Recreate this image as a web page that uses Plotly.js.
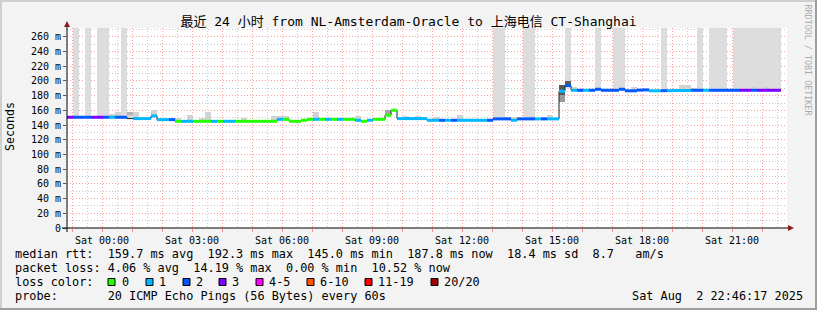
<!DOCTYPE html>
<html><head><meta charset="utf-8">
<script src="https://cdn.plot.ly/plotly-3.0.1.min.js"></script>
<style>html,body{margin:0;padding:0;background:#f3f3f3;overflow:hidden}#chart{width:817px;height:310px}</style>
</head><body><div id="chart"></div>
<script>
// ---------------- DATA ----------------
const TITLE = '最近 24 小时 from NL-Amsterdam-Oracle to 上海电信 CT-Shanghai';
// 12-minute bins, hours relative to Sat 00:00 (first bin starts Fri 22:50)
const FIRST_BIN_HOUR = -7 / 6;
const BIN_HOURS = 0.2;
// median RTT per bin (ms)
const medianRtt = [
  150.6,150.6,150.6,150.6,150.6,150.6,150.6,150.6,150.6,150.6,
  148.8,148.8,148.8,148.8,152.4,147.4,147.4,147.4,145.1,145.1,
  145.1,145.1,145.1,145.1,145.1,145.1,145.1,145.1,145.1,145.1,
  145.1,145.1,145.1,145.1,145.1,147.8,147.8,145.1,145.1,146.5,
  147.8,147.8,147.8,147.8,147.8,147.8,147.8,147.8,146.5,145.1,
  146.5,147.8,147.8,153.3,160.1,148.8,148.8,148.8,148.8,148.8,
  146.5,146.5,146.5,146.5,146.5,146.5,146.5,146.5,146.5,146.5,
  146.5,148.4,148.4,148.4,146.5,148.4,148.4,148.4,148.4,148.4,
  148.4,148.4,186.0,193.5,187.3,187.3,187.3,187.3,188.7,187.3,
  187.3,187.3,188.7,186.6,186.6,187.5,187.8,186.6,186.6,186.8,
  186.8,187.0,187.0,187.0,187.3,187.3,187.3,187.3,187.3,187.3,
  187.3,187.3,187.3,187.3,187.3,187.3,187.3,187.3,187.3
];
// loss class per bin (index into lossLabels, -1 = no colour)
const lossClass = [
  3,2,2,2,3,3,2,1,2,2,
  -1,1,1,1,1,1,1,2,0,1,
  1,0,0,0,1,0,1,1,0,0,
  0,0,0,0,0,1,0,0,0,0,
  0,1,0,1,0,1,0,0,1,0,
  1,0,0,0,0,1,1,1,1,1,
  1,1,2,1,2,1,1,1,1,1,
  2,2,2,2,1,2,2,2,1,2,
  1,1,1,2,1,2,1,2,2,2,
  2,2,2,2,2,2,2,1,1,2,
  1,1,1,1,2,2,1,2,2,2,
  2,2,3,3,2,3,3,3,3
];
// light smoke (spread above the median)
const smokeBins = [7,8,10,11,13,14,18,20,22,23,29,32,34,35,36,38,41,48,53,54,56,58,59,61,65,73,74,77,79,80,82,83,84,92,94,96,102,103,104,114,116];
const smokeTops = [155.6,158.3,157.4,158.3,151,161,149.7,154.2,149.7,157.4,149.7,147.4,152.9,152.9,152.9,147.5,157.4,152,161,162.3,153,152.9,151,151,154.2,151,151,152.9,151,154.2,195,199.6,192,190.6,192,189,195,195,190.6,192,192];
// dense smoke
const darkBins = [10,53,82,82,83];
const darkLows = [154.2,154.0,172.0,181.5,192.8];
const darkTops = [157.4,161.0,181.5,195.0,199.6];
const darkShade = ['#b4b4b4','#a8a8a8','#9a9a9a','#5a5a5a','#5a5a5a'];
// bins with outlier pings beyond the chart top
const tallBins = [1,3,5,6,9,71,72,76,77,83,88,91,92,99,105,107,108,109,111,112,113,114,115,116,117,118];

const lossLabels = ['0','1','2','3','4-5','6-10','11-19','20/20'];
const lossColors = ['#26ff00','#00b8ff','#0059ff','#7e00ff','#ff00ff','#ff5500','#ff0000','#a10000'];

const xTickHours = [0,3,6,9,12,15,18,21];
const xTickLabels = ['Sat 00:00','Sat 03:00','Sat 06:00','Sat 09:00','Sat 12:00','Sat 15:00','Sat 18:00','Sat 21:00'];
const yTickValues = [0,20,40,60,80,100,120,140,160,180,200,220,240,260];
const yTickLabels = ['0','20 m','40 m','60 m','80 m','100 m','120 m','140 m','160 m','180 m','200 m','220 m','240 m','260 m'];

const statLines = [
  'median rtt:  159.7 ms avg  192.3 ms max  145.0 ms min  187.8 ms now  18.4 ms sd  8.7   am/s',
  'packet loss: 4.06 % avg  14.19 % max  0.00 % min  10.52 % now',
  'loss color:',
  'probe:       20 ICMP Echo Pings (56 Bytes) every 60s'
];
const stampText = 'Sat Aug  2 22:46:17 2025';

// ---------------- DRAW ----------------
const nBins = medianRtt.length;
const binStart = i => FIRST_BIN_HOUR + BIN_HOURS * i;
const binMid = i => binStart(i) + BIN_HOURS / 2;
const Y_MAX = 272;

const traces = [];
// tall outlier bars
traces.push({type:'bar', x: tallBins.map(binMid), base: tallBins.map(b => medianRtt[b]),
  y: tallBins.map(b => 320 - medianRtt[b]), width: BIN_HOURS,
  marker:{color:'#dcdcdc', line:{width:0}}, hoverinfo:'skip'});
// smoke
traces.push({type:'bar', x: smokeBins.map(binMid), base: smokeBins.map(b => medianRtt[b]),
  y: smokeBins.map((b,i) => smokeTops[i] - medianRtt[b]), width: BIN_HOURS,
  marker:{color:'#d2d2d2', line:{width:0}}, hoverinfo:'skip'});
traces.push({type:'bar', x: darkBins.map(binMid), base: darkLows,
  y: darkBins.map((b,i) => darkTops[i] - darkLows[i]), width: BIN_HOURS,
  marker:{color: darkShade, line:{width:0}}, hoverinfo:'skip'});
// thin median step line
const lx = [], ly = [];
for (let i = 0; i < nBins; i++) { lx.push(binStart(i)); ly.push(medianRtt[i]); }
lx.push(binStart(nBins)); ly.push(medianRtt[nBins-1]);
traces.push({type:'scatter', mode:'lines', x:lx, y:ly, line:{shape:'hv', color:'#202020', width:1}, hoverinfo:'skip'});
// coloured median segments by loss
lossColors.forEach((col, c) => {
  const sx = [], sy = [];
  for (let i = 0; i < nBins; i++) if (lossClass[i] === c) {
    sx.push(binStart(i), binStart(i+1), null); sy.push(medianRtt[i], medianRtt[i], null);
  }
  if (sx.length) traces.push({type:'scatter', mode:'lines', x:sx, y:sy, line:{color:col, width:3}, connectgaps:false, hoverinfo:'skip'});
});

// pixel helpers
const L = 67, T = 28, W = 720, H = 200;
const px = x => (x - L) / W;
const py = y => (T + H - y) / H;

const mono = 'DejaVu Sans Mono, monospace';
const keepSpaces = s => s.replace(/ /g, '\u00a0');
const annotations = [];
const txt = (x, y, s, size) => annotations.push({
  xref:'paper', yref:'paper', x:px(x), y:py(y), xanchor:'left', yanchor:'middle',
  text: keepSpaces(s), showarrow:false, borderpad:0, borderwidth:0,
  font:{family:mono, size:size, color:'#000'}});

const rowY = [254.3, 268.3, 282.3, 296];
statLines.forEach((s, i) => txt(15, rowY[i], s, 11.85));
txt(632, rowY[3], stampText, 11.85);
// loss colour legend
const boxLeft = [108,146,183,219,256,307,365,431];
const labLeft = [122,159,196,232,269,320,378,444];
const shapes = [];
lossLabels.forEach((lab, i) => {
  shapes.push({type:'rect', xref:'paper', yref:'paper', x0:px(boxLeft[i]), x1:px(boxLeft[i]+7),
    y0:py(285.5), y1:py(278.5), fillcolor:lossColors[i], line:{color:'#000', width:1}});
  txt(labLeft[i], rowY[2], lab, 11.85);
});
// y axis title
annotations.push({xref:'paper', yref:'paper', x:px(10), y:py(127), xanchor:'center', yanchor:'middle',
  text:'Seconds', textangle:-90, showarrow:false, borderpad:0, borderwidth:0, font:{family:mono, size:11.6, color:'#000'}});
// rrdtool credit
annotations.push({xref:'paper', yref:'paper', x:px(807.5), y:py(60), xanchor:'center', yanchor:'middle',
  text:keepSpaces('RRDTOOL / TOBI OETIKER'), textangle:90, showarrow:false, borderpad:0, borderwidth:0, font:{family:mono, size:8.4, color:'#ababab'}});

// axes with arrows
shapes.push({type:'line', xref:'paper', yref:'paper', x0:px(62), x1:px(789), y0:py(228), y1:py(228), line:{color:'#000', width:1}});
shapes.push({type:'line', xref:'paper', yref:'paper', x0:px(67), x1:px(67), y0:py(232), y1:py(25), line:{color:'#000', width:1}});
shapes.push({type:'path', xref:'paper', yref:'paper', fillcolor:'#8b1c1c', line:{width:0},
  path:`M${px(794)},${py(228)} L${px(788)},${py(225)} L${px(788)},${py(231)} Z`});
shapes.push({type:'path', xref:'paper', yref:'paper', fillcolor:'#8b1c1c', line:{width:0},
  path:`M${px(67)},${py(21)} L${px(64)},${py(27)} L${px(70)},${py(27)} Z`});
// 3D frame
shapes.push({type:'line', xref:'paper', yref:'paper', x0:px(0), x1:px(817), y0:py(1), y1:py(1), line:{color:'#cfcfcf', width:2}});
shapes.push({type:'line', xref:'paper', yref:'paper', x0:px(1), x1:px(1), y0:py(0), y1:py(310), line:{color:'#cfcfcf', width:2}});
shapes.push({type:'line', xref:'paper', yref:'paper', x0:px(0), x1:px(817), y0:py(309), y1:py(309), line:{color:'#9e9e9e', width:2}});
shapes.push({type:'line', xref:'paper', yref:'paper', x0:px(816), x1:px(816), y0:py(0), y1:py(310), line:{color:'#9e9e9e', width:2}});

const hourTicks = [];
for (let h = -1; h <= 22; h++) hourTicks.push(h);
const hourText = hourTicks.map(h => { const k = xTickHours.indexOf(h); return k >= 0 ? xTickLabels[k] : ''; });

const layout = {
  width:817, height:310,
  margin:{l:L, r:817 - L - W, t:T, b:310 - T - H, pad:0},
  paper_bgcolor:'#f3f3f3', plot_bgcolor:'#ffffff',
  showlegend:false, barmode:'overlay', bargap:0, hovermode:false,
  font:{family:mono, size:10, color:'#000'},
  title:{text:TITLE, font:{family:'DejaVu Sans Mono, Noto Sans CJK SC, monospace', size:13, color:'#000'},
    x:0.5, xref:'container', xanchor:'center', y:1 - 21/310, yref:'container', yanchor:'middle'},
  xaxis:{range:[FIRST_BIN_HOUR, FIRST_BIN_HOUR + 24], tickmode:'array', tickvals:hourTicks, ticktext:hourText,
    showgrid:true, gridcolor:'#ff9c9c', griddash:'1px,2px', gridwidth:1,
    ticks:'outside', ticklen:3, tickcolor:'#ff8c8c', tickwidth:1, zeroline:false, showline:false,
    minor:{tickmode:'linear', tick0:0, dtick:0.5, showgrid:true, gridcolor:'#c8c8c8', griddash:'1px,2px', gridwidth:1, ticks:''},
    tickfont:{family:mono, size:10, color:'#000'}, fixedrange:true},
  yaxis:{range:[0, Y_MAX], tickmode:'array', tickvals:yTickValues, ticktext:yTickLabels,
    showgrid:true, gridcolor:'#ff9c9c', griddash:'1px,2px', gridwidth:1,
    ticks:'outside', ticklen:3, tickcolor:'#555', tickwidth:1, zeroline:false, showline:false,
    minor:{tickmode:'linear', tick0:0, dtick:10, showgrid:true, gridcolor:'#c8c8c8', griddash:'1px,2px', gridwidth:1, ticks:''},
    tickfont:{family:mono, size:10, color:'#000'}, fixedrange:true},
  shapes, annotations
};
Plotly.newPlot('chart', traces, layout, {staticPlot:true, displayModeBar:false});
</script></body></html>
